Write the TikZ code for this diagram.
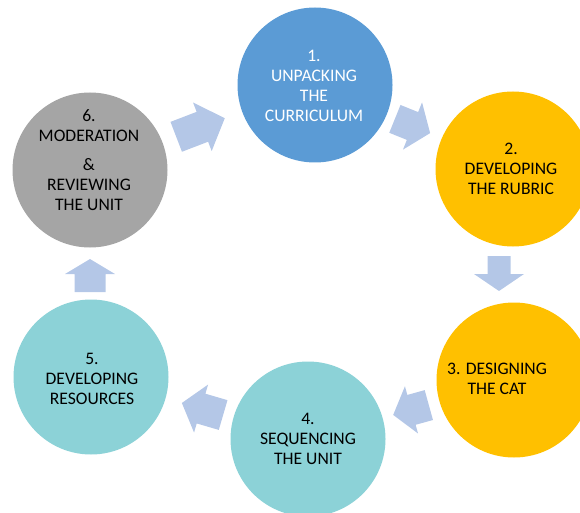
\documentclass[tikz,border=0pt]{standalone}
\usepackage{fontspec}
\setmainfont{Carlito}
\definecolor{cblue}{HTML}{5B9BD5}
\definecolor{corange}{HTML}{FFC000}
\definecolor{cteal}{HTML}{8CD2D7}
\definecolor{cgray}{HTML}{A5A5A5}
\definecolor{carrow}{HTML}{B4C7E7}
\newcommand\blockarr[8]{%
  % #1 x, #2 y, #3 rotate, #4 length, #5 shaft width, #6 head width, #7 head length, #8 name
  \begin{scope}[shift={(#1,#2)},rotate=#3]
    \fill[arrowstyle] ({-#4/2},{-#5/2}) -- ({#4/2-#7},{-#5/2}) -- ({#4/2-#7},{-#6/2})
      -- ({#4/2},0) -- ({#4/2-#7},{#6/2}) -- ({#4/2-#7},{#5/2}) -- ({-#4/2},{#5/2}) -- cycle;
    \coordinate (#8) at (0,0);
  \end{scope}}
\begin{document}
\begin{tikzpicture}[x=1pt,y=-1pt,
  stage/.style={circle,minimum size=155pt,inner sep=0pt,draw=none},
  label/.style={align=center,inner sep=0pt,font=\fontsize{17.6}{20}\selectfont},
  arrowstyle/.style={fill=carrow}]
  \useasboundingbox (0,0) rectangle (580,513);
  \begin{scope}
  \clip (0,0) rectangle (580,513);
  % circles
  \node[stage,fill=cblue]   (c1) at (315,85)  {};
  \node[stage,fill=corange] (c2) at (513,169) {};
  \node[stage,fill=corange] (c3) at (514,380) {};
  \node[stage,fill=cteal]   (c4) at (308,439) {};
  \node[stage,fill=cteal]   (c5) at (91,377)  {};
  \node[stage,fill=cgray]   (c6) at (90,170)  {};
  % texts
  \node[label,text=white] (t1) at (314,86) {1.\\UNPACKING\\THE\\CURRICULUM};
  \node[label] (t2) at (511,169) {2.\\DEVELOPING\\THE RUBRIC};
  \node[label] (t3) at (497,379) {3. DESIGNING\\THE CAT};
  \node[label] (t4) at (308,439) {4.\\SEQUENCING\\THE UNIT};
  \node[label] (t5) at (92,379) {5.\\DEVELOPING\\RESOURCES};
  \node[label] (t6) at (89,160) {6.\\MODERATION\\[9pt]\&\\REVIEWING\\THE UNIT};
  % block arrows
  \blockarr{200.5}{127.5}{21}{52}{32}{52}{24}{a61}
  \blockarr{412.5}{126}{-22}{38}{30}{51}{19}{a12}
  \blockarr{499}{273.5}{-90}{35}{23}{50}{17}{a23}
  \blockarr{411}{410}{-164.5}{37}{31}{49}{19}{a34}
  \blockarr{202.5}{409}{163.7}{43}{31}{50}{20}{a45}
  \blockarr{90}{275.5}{90}{33}{31}{50}{15}{a56}
  \end{scope}
\end{tikzpicture}
\end{document}
